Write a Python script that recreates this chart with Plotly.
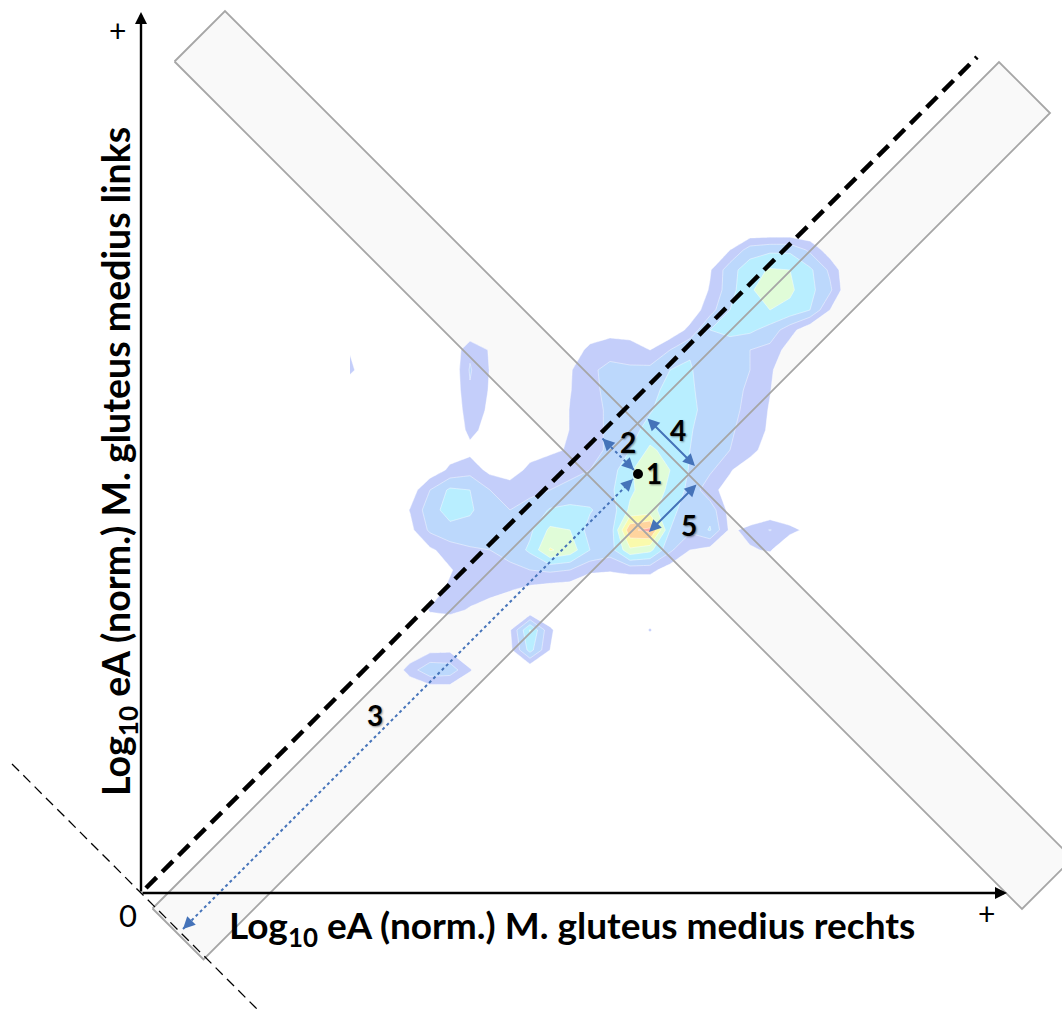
import plotly.graph_objects as go

# ---------------- data (1 unit = 1 px, origin = axis origin, y upwards) ----------------
X_RANGE = [-141, 921]
Y_RANGE = [-119, 893]
axis_x_end = 866
axis_y_end = 881

identity_ends = [5, 836]          # dashed line y = x
perp_ends = [-129, 119]           # thin dashed line y = -x

# bands in rotated coordinates u = x - y, v = x + y
band1_u = [27, 129]
band1_v = [-4, 1689]
band2_u = [-798, 897]
band2_v = [865, 966]

point1 = (497, 419)

# arrows: (u, v) of both tips
arrow2_uv = [(7, 916), (70, 916)]
arrow3_uv = [(78, 6), (78, 906)]
arrow4_uv = [(29, 981), (127, 981)]
arrow5_uv = [(147, 866), (147, 964)]

label_text = ["1", "2", "3", "4", "5"]
label_x = [513, 487, 234, 537, 548]
label_y = [420, 451, 178, 463, 368]

# density grid
density_x = list(range(209, 710, 20))     # 26 columns
density_y = list(range(663, 202, -20))    # 24 rows (top to bottom)
density_z = [
    [0,0,0,0,0,0,0,0,0,0,0,0,0,0,0,0,0,0,0,0,0,0,0,0,0,0],
    [0,0,0,0,0,0,0,0,0,0,0,0,0,0,0,0,0,0,0,1.0,2.5,2.8,2.8,1.8,0.4,0],
    [0,0,0,0,0,0,0,0,0,0,0,0,0,0,0,0,0,0,0.9,2.6,3.6,4.1,4.0,3.2,1.8,0],
    [0,0,0,0,0,0,0,0,0,0,0,0,0,0,0,0,0,0,1.1,2.6,3.9,4.4,4.2,3.3,2.2,0],
    [0,0,0,0,0,0,0,0,0,0,0,0,0,0,0,0,0,0.3,1.6,3.0,3.8,4.0,3.7,3.0,1.0,0],
    [0,0,0,0,0,0,0,0,0,0,0,0,0.3,0.6,0.6,0.5,0.2,1.3,3.0,3.3,3.2,2.6,1.4,0.2,0,0],
    [0.9,0,0,0,0,0,1.8,0.9,0,0,0,0.3,1.3,1.6,1.4,1.0,2.0,2.9,3.0,2.4,2.0,1.7,0.5,0,0,0],
    [1.3,0,0,0,0,0,2.1,0.95,0,0,0,0.9,1.8,2.3,2.2,2.3,3.0,3.1,2.4,2.2,2.0,1.2,0,0,0,0],
    [0,0,0,0,0,0,1.9,0.9,0,0,0,0.95,1.7,2.3,2.4,2.6,3.4,3.2,2.4,2.2,1.9,1.05,0,0,0,0],
    [0,0,0,0,0,0,1.6,0.8,0,0,0,1.05,1.6,2.2,2.5,2.9,3.6,3.3,2.5,2.2,1.8,0.9,0,0,0,0],
    [0,0,0,0,0,0,1.3,0.6,0,0,0,1.05,1.6,2.2,2.6,3.4,3.5,3.1,2.4,2.1,1.7,0.8,0,0,0,0],
    [0,0,0,0,0,0.5,0.7,0,0,0.5,0.8,1.1,1.6,2.2,3.0,4.2,3.6,3.0,2.3,2.0,1.4,0.4,0,0,0,0],
    [0,0,0,0,0.3,1.2,1.6,0.7,0.4,1.3,1.6,1.8,2.0,2.5,3.8,5.1,4.0,2.9,2.2,1.1,0.3,0,0,0,0,0],
    [0,0,0,0.4,2.0,3.2,3.0,2.0,1.6,1.8,2.0,2.2,2.4,2.8,3.8,4.6,3.8,2.7,1.3,0.6,0,0,0,0,0,0],
    [0,0,0,1.05,2.6,3.4,3.2,2.2,2.0,2.3,3.1,3.3,3.1,2.4,4.2,4.4,3.3,2.5,2.6,0.6,0,0,0,0,0,0],
    [0,0,0,0.7,2.2,2.7,2.5,2.1,2.2,2.8,4.2,4.0,2.6,2.3,6.8,7.3,3.0,2.2,3.1,0.8,1.3,2.05,1.3,0.7,0,0],
    [0,0,0,0,0.8,1.5,1.9,2.0,2.3,3.2,5.1,4.6,3.0,2.5,4.8,4.3,2.2,1.0,0.6,0,0.9,1.1,0,0,0,0],
    [0,0,0,0,0.2,0.9,1.6,1.7,1.8,2.0,2.2,2.0,1.2,1.1,1.3,1.3,0.5,0,0,0,0,0,0,0,0,0],
    [0,0,0,0,0.5,1.2,1.5,1.4,1.05,0.7,0.4,0.3,0,0,0,0,0,0,0,0,0,0,0,0,0,0],
    [0,0,0,0,1.1,1.3,0.9,0.4,0.3,0,0,0,0,0,0,0,0,0,0,0,0,0,0,0,0,0],
    [0,0,0,0,0.2,0,0,0,0.9,4.1,1.2,0,0,0,0,1.1,0,0,0,0,0,0,0,0,0,0],
    [0,0,0,0,0.7,0.8,0,0,0.7,3.4,1.0,0,0,0,0,0,0,0,0,0,0,0,0,0,0,0],
    [0,0,0,1.5,2.8,2.6,1.1,0,0,0,0,0,0,0,0,0,0,0,0,0,0,0,0,0,0,0],
    [0,0,0,0,0.3,0.4,0,0,0,0,0,0,0,0,0,0,0,0,0,0,0,0,0,0,0,0],
]
level_colors = ['rgba(255,255,255,0)', 'rgb(196,206,250)', 'rgb(188,216,252)',
                'rgb(184,238,255)', 'rgb(224,252,216)', 'rgb(250,250,172)',
                'rgb(255,212,158)', 'rgb(255,166,160)']

x_title = "Log<sub>10</sub> eA (norm.) M. gluteus medius rechts"
y_title = "Log<sub>10</sub> eA (norm.) M. gluteus medius links"

# ---------------- styles ----------------
BLUE = '#4573B9'
GRAY = '#A6A6A6'
BAND_FILL = '#F9F9F9'
FONT = 'Lato'


def uv_to_xy(u, v):
    return ((u + v) / 2.0, (v - u) / 2.0)


def band_corners(urange, vrange):
    pts = [(urange[0], vrange[0]), (urange[1], vrange[0]),
           (urange[1], vrange[1]), (urange[0], vrange[1])]
    return [uv_to_xy(u, v) for u, v in pts]


fig = go.Figure()

# band fills (below everything)
shapes = []
for ur, vr in [(band1_u, band1_v), (band2_u, band2_v)]:
    c = band_corners(ur, vr)
    path = "M " + " L ".join(f"{x},{y}" for x, y in c) + " Z"
    shapes.append(dict(type='path', path=path, xref='x', yref='y', layer='below',
                       fillcolor=BAND_FILL, line=dict(width=0)))

# density contour
fig.add_trace(go.Contour(
    x=density_x, y=density_y[::-1], z=density_z[::-1],
    autocontour=False,
    contours=dict(start=1, end=7, size=1, coloring='fill', showlines=True),
    line=dict(color='rgba(255,255,255,0.55)', width=0.8, smoothing=0),
    colorscale=[[i / 7, c] for i, c in enumerate(level_colors)],
    showscale=False, hoverinfo='skip'))

# band outlines
for ur, vr in [(band1_u, band1_v), (band2_u, band2_v)]:
    c = band_corners(ur, vr)
    c = c + [c[0]]
    fig.add_trace(go.Scatter(x=[p[0] for p in c], y=[p[1] for p in c], mode='lines',
                             line=dict(color=GRAY, width=1.8), hoverinfo='skip'))

# thin perpendicular dashed line
fig.add_trace(go.Scatter(x=perp_ends, y=[-v for v in perp_ends], mode='lines',
                         line=dict(color='black', width=1.3, dash='10px,6px'), hoverinfo='skip'))
# identity dashed line
fig.add_trace(go.Scatter(x=identity_ends, y=identity_ends, mode='lines',
                         line=dict(color='black', width=4.5, dash='15px,8px'), hoverinfo='skip'))

# dotted arrows 2 and 3 (lines)
for uvs in [arrow2_uv, arrow3_uv]:
    pts = [uv_to_xy(*p) for p in uvs]
    fig.add_trace(go.Scatter(x=[p[0] for p in pts], y=[p[1] for p in pts], mode='lines',
                             line=dict(color=BLUE, width=2, dash='dot'), hoverinfo='skip'))

# point 1
fig.add_trace(go.Scatter(x=[point1[0]], y=[point1[1]], mode='markers',
                         marker=dict(color='black', size=10), hoverinfo='skip'))

annotations = []

# axes with arrow heads
annotations.append(dict(x=0, y=axis_y_end, ax=0, ay=0, xref='x', yref='y', axref='x', ayref='y',
                        showarrow=True, arrowhead=2, arrowsize=1, arrowwidth=2.4,
                        arrowcolor='black', text='', standoff=0))
annotations.append(dict(x=axis_x_end, y=0, ax=0, ay=0, xref='x', yref='y', axref='x', ayref='y',
                        showarrow=True, arrowhead=2, arrowsize=1, arrowwidth=2.4,
                        arrowcolor='black', text='', standoff=0))

HEAD_LEN = 12


def head(tip, frm):
    dx, dy = tip[0] - frm[0], tip[1] - frm[1]
    L = (dx * dx + dy * dy) ** 0.5
    tail = (tip[0] - dx / L * HEAD_LEN, tip[1] - dy / L * HEAD_LEN)
    return dict(x=tip[0], y=tip[1], ax=tail[0], ay=tail[1], xref='x', yref='y',
                axref='x', ayref='y', showarrow=True, arrowhead=2, arrowsize=1.2,
                arrowwidth=2, arrowcolor=BLUE, text='', standoff=0)


for uvs in [arrow2_uv, arrow3_uv]:
    a, b = [uv_to_xy(*p) for p in uvs]
    annotations.append(head(a, b))
    annotations.append(head(b, a))

for uvs in [arrow4_uv, arrow5_uv]:
    a, b = [uv_to_xy(*p) for p in uvs]
    annotations.append(dict(x=b[0], y=b[1], ax=a[0], ay=a[1], xref='x', yref='y',
                            axref='x', ayref='y', showarrow=True, arrowside='end+start',
                            arrowhead=2, startarrowhead=2, arrowsize=1.2, startarrowsize=1.2,
                            arrowwidth=2, arrowcolor=BLUE, text='', standoff=0, startstandoff=0))

# number labels
for t, x, y in zip(label_text, label_x, label_y):
    annotations.append(dict(x=x, y=y, xref='x', yref='y', text=t, showarrow=False,
                            font=dict(family=FONT, size=28, color='black', weight='bold',
                                      shadow='1px 1px 2px rgba(0,0,0,0.45)')))

# axis texts
annotations.append(dict(x=-24, y=863, xref='x', yref='y', text='+', showarrow=False,
                        font=dict(family=FONT, size=30, color='black')))
annotations.append(dict(x=845, y=-20, xref='x', yref='y', text='+', showarrow=False,
                        font=dict(family=FONT, size=30, color='black')))
annotations.append(dict(x=-13, y=-22, xref='x', yref='y', text='0', showarrow=False,
                        font=dict(family=FONT, size=31, color='black')))
annotations.append(dict(x=431, y=-34, xref='x', yref='y', text=x_title, showarrow=False,
                        font=dict(family=FONT, size=37, color='black', weight='bold')))
annotations.append(dict(x=-23, y=431, xref='x', yref='y', text=y_title, showarrow=False,
                        textangle=-90,
                        font=dict(family=FONT, size=37.5, color='black', weight='bold')))

fig.update_layout(
    width=1062, height=1012, autosize=False,
    margin=dict(l=0, r=0, t=0, b=0, pad=0),
    paper_bgcolor='white', plot_bgcolor='white',
    showlegend=False,
    xaxis=dict(range=X_RANGE, visible=False, fixedrange=True),
    yaxis=dict(range=Y_RANGE, visible=False, fixedrange=True),
    shapes=shapes, annotations=annotations,
)

fig.write_html("out.html")
